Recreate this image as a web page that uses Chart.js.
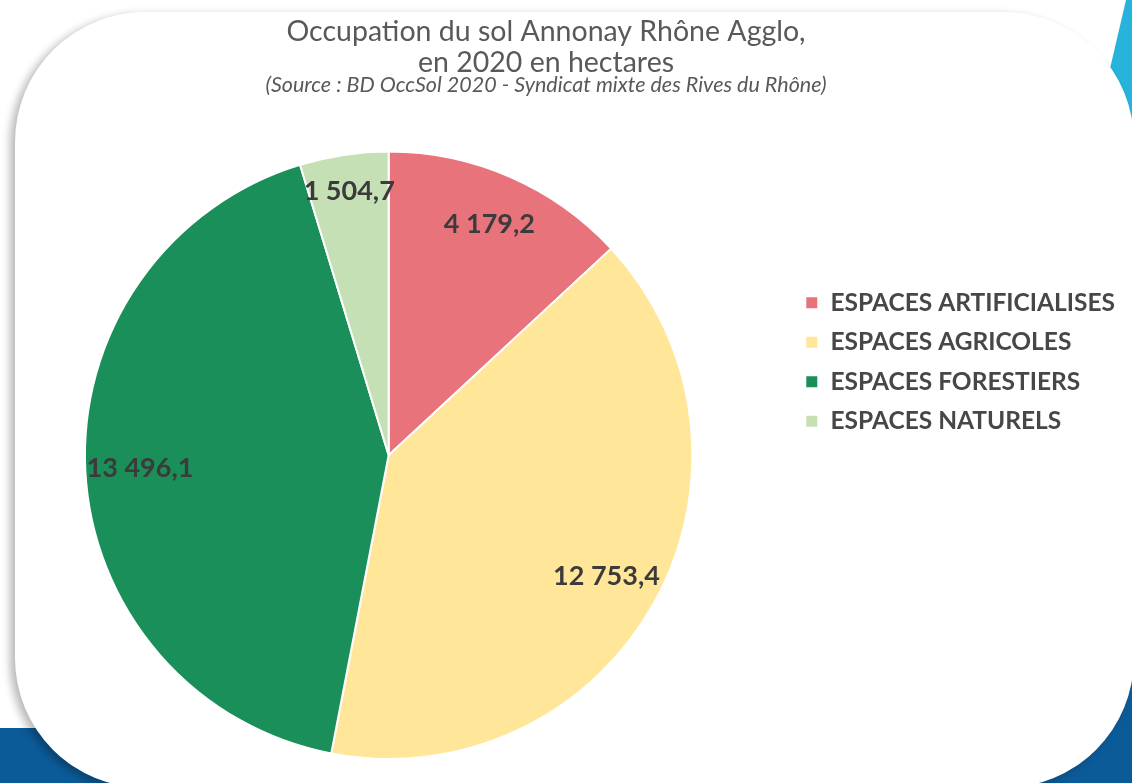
<!DOCTYPE html>
<html lang="fr">
<head>
<meta charset="utf-8">
<title>Occupation du sol Annonay Rhône Agglo</title>
<script src="https://cdn.jsdelivr.net/npm/chart.js@4.4.1/dist/chart.umd.min.js"></script>
<style>
html, body { margin: 0; padding: 0; width: 1132px; height: 783px; overflow: hidden; background: #fff; }
.band { position: absolute; left: 0; right: 0; top: 728px; bottom: 0; background: #0c5b99; }
.side { position: absolute; left: 1090px; top: 350px; width: 42px; height: 433px; background: #0c5b99; }
.cyan { position: absolute; left: 1092px; top: 0; width: 40px; height: 120px; background: #27b3db;
        clip-path: polygon(34px 0, 40px 0, 40px 120px, 6px 120px); }
.panel { position: absolute; left: 15px; top: 12px; width: 1119px; height: 776px; background: #fff;
         border-radius: 130px; box-shadow: -5px 3px 9px rgba(0, 0, 0, 0.28); }
#chartBox { position: absolute; left: -13px; top: 0; width: 1138px; height: 783px; }
</style>
</head>
<body>
<div class="band"></div>
<div class="side"></div>
<div class="cyan"></div>
<div class="panel"></div>
<div id="chartBox"><canvas id="occupationChart"></canvas></div>
<script>
// Data
const categories = ['ESPACES ARTIFICIALISES', 'ESPACES AGRICOLES', 'ESPACES FORESTIERS', 'ESPACES NATURELS'];
const surfaces = [4179.2, 12753.4, 13496.1, 1504.7];
const titleLines = ['Occupation du sol Annonay Rhône Agglo,', 'en 2020 en hectares'];
const sourceText = '(Source : BD OccSol 2020 - Syndicat mixte des Rives du Rhône)';

// Styles
const sliceColors = ['#e8737b', '#ffe699', '#1a8f5a', '#c5e0b4'];
const labelRadius = [0.83, 0.82, 0.82, 0.88];
const titleShift = -10; // heading sits a bit left of the full width centre

// 4179.2 -> "4 179,2"
function formatHa(v) {
    const parts = v.toFixed(1).split('.');
    return parts[0].replace(/\B(?=(\d{3})+(?!\d))/g, ' ') + ',' + parts[1];
}

// Values written inside the slices
const sliceLabels = {
    id: 'sliceLabels',
    afterDatasetsDraw(chart) {
        const ctx = chart.ctx;
        const meta = chart.getDatasetMeta(0);
        ctx.save();
        ctx.font = 'bold 27px Lato';
        ctx.fillStyle = '#3b3b3b';
        ctx.textAlign = 'center';
        ctx.textBaseline = 'middle';
        meta.data.forEach((arc, i) => {
            const mid = (arc.startAngle + arc.endAngle) / 2;
            const r = arc.outerRadius * labelRadius[i];
            ctx.fillText(formatHa(surfaces[i]), arc.x + Math.cos(mid) * r, arc.y + Math.sin(mid) * r);
        });
        ctx.restore();
    }
};

// Nudge title + subtitle blocks horizontally
const headingShift = {
    id: 'headingShift',
    afterLayout(chart) {
        chart.boxes.forEach(box => {
            if (box.options && box.options.position === 'top' && box.options.text) {
                box.left += titleShift;
                box.right += titleShift;
            }
        });
    }
};

Chart.defaults.font.family = 'Lato';

const ctx = document.getElementById('occupationChart');
new Chart(ctx, {
    type: 'pie',
    data: {
        labels: categories,
        datasets: [{
            data: surfaces,
            backgroundColor: sliceColors,
            borderColor: '#ffffff',
            borderWidth: 2,
            hoverOffset: 0
        }]
    },
    options: {
        responsive: true,
        maintainAspectRatio: false,
        animation: false,
        events: [],
        layout: { padding: { left: 0, right: 0, top: 0, bottom: 23 } },
        plugins: {
            title: {
                display: true,
                text: titleLines,
                color: '#595959',
                font: { size: 28.5, weight: 'normal', lineHeight: 1.1 },
                padding: { top: 16, bottom: 0 }
            },
            subtitle: {
                display: true,
                text: sourceText,
                color: '#595959',
                font: { size: 21.5, style: 'italic', lineHeight: 0.6 },
                padding: { top: 0, bottom: 59 }
            },
            legend: {
                position: 'right',
                align: 'start',
                fullSize: false,
                title: { display: true, text: '', font: { size: 10, lineHeight: 1 }, padding: { top: 115, bottom: 0 } },
                labels: {
                    color: '#474747',
                    font: { size: 24.5, weight: 'bold' },
                    boxWidth: 13,
                    boxHeight: 13,
                    padding: 15
                }
            },
            tooltip: { enabled: false }
        }
    },
    plugins: [sliceLabels, headingShift]
});
</script>
</body>
</html>
